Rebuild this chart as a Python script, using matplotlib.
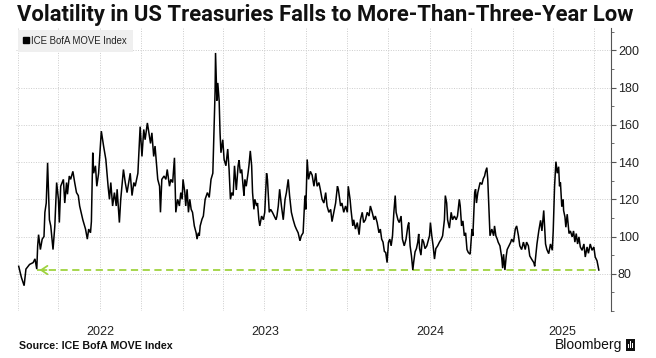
import pandas as pd
import matplotlib
matplotlib.use("Agg")
import matplotlib.pyplot as plt
import matplotlib.dates as mdates
from matplotlib.ticker import MultipleLocator, NullFormatter
from matplotlib.lines import Line2D
from matplotlib.patches import Rectangle
from matplotlib import font_manager

# ---------------- data ----------------
dates_2022 = ["01-03","01-09","01-15","01-19","01-27","02-04","02-08","02-12","02-14","02-16",
              "02-20","02-24","02-28","03-02","03-05","03-08","03-12","03-15","03-20","03-24",
              "03-28","04-01","04-03","04-06","04-12","04-15","04-19","04-21","04-25","04-28",
              "05-03","05-07","05-11","05-15","05-18","05-25","05-31","06-04","06-07","06-11",
              "06-13","06-16","06-18","06-22","06-25","06-29","07-05","07-10","07-15","07-20",
              "07-23","07-26","07-30","08-03","08-07","08-09","08-14","08-17","08-23","08-27",
              "08-31","09-07","09-11","09-15","09-18","09-24","09-29","10-03","10-07","10-10",
              "10-15","10-22","10-25","10-29","11-01","11-07","11-11","11-13","11-16","11-21",
              "11-25","11-28","12-03","12-06","12-10","12-14","12-17","12-21","12-25","12-28",
              "12-31"]
values_2022 = [84, 78, 73.6, 82.5, 85, 86, 88, 82.5, 95, 101,
               93, 98.6, 100, 113, 118, 139.6, 109, 105.7, 93, 105.7,
               129, 120, 107.5, 127, 130.7, 118, 129, 122.7, 132.5, 130.7,
               135, 129, 123.6, 122, 116.4, 109, 104, 98.6, 104, 102,
               108, 145, 134, 138, 127, 134, 156.6, 148.6, 141.4, 127,
               120, 129, 116.4, 123.6, 116.4, 125.4, 107.5, 120, 136, 129,
               123.6, 134, 122, 129, 127, 134, 159, 143, 157.5, 152,
               161, 150, 155.7, 143, 148.6, 130.7, 127, 113, 130.7, 132.5,
               130.7, 136, 127, 130.7, 129, 142.3, 113, 120, 116.4, 123.6,
               120]

dates_2023 = ["01-02","01-06","01-08","01-11","01-14","01-17","01-20","01-23","01-27","01-31",
              "02-02","02-05","02-07","02-09","02-13","02-16","02-20","02-25","03-01","03-05",
              "03-09","03-11","03-13","03-14","03-15","03-18","03-20","03-23","03-25","03-27",
              "03-31","04-03","04-07","04-11","04-14","04-17","04-20","04-23","04-26","04-30",
              "05-04","05-06","05-09","05-12","05-15","05-17","05-19","05-22","05-26","05-28",
              "05-31","06-03","06-05","06-08","06-10","06-14","06-16","06-19","06-21","06-25",
              "06-29","07-02","07-06","07-08","07-12","07-15","07-19","07-23","07-27","07-29",
              "08-01","08-04","08-08","08-12","08-16","08-19","08-23","08-26","08-30","09-03",
              "09-07","09-10","09-14","09-18","09-21","09-25","09-29","10-01","10-04","10-07",
              "10-11","10-15","10-19","10-23","10-26","10-30","11-02","11-06","11-10","11-14",
              "11-17","11-21","11-25","11-28","12-02","12-06","12-10","12-12","12-15","12-17",
              "12-20","12-24","12-28"]
values_2023 = [130.7, 123.6, 116.4, 125.4, 113, 120, 114.6, 113, 105.7, 102,
               98.6, 102, 100.4, 105.7, 109.3, 111, 120, 123.6, 121, 130.7,
               134, 152, 170, 178, 198.6, 173, 182.5, 173, 155.7, 145,
               152, 141.4, 138, 147, 136, 120, 123.6, 122, 138, 125,
               138, 141, 134, 136, 127, 122, 130.7, 127, 134, 138,
               146, 138, 123.6, 114.6, 120, 116.4, 118, 109, 105.7, 111,
               109, 113, 134, 130.7, 113, 114.6, 113, 111, 109, 111,
               116.4, 125.4, 116.4, 109, 120, 123.6, 130.7, 122, 113, 109,
               105.7, 104, 102, 97.7, 100.4, 102, 122, 114.6, 141.4, 130.7,
               135, 133, 127, 134, 127, 129, 125.4, 120, 118, 123.6,
               116.4, 113, 114.6, 108, 113, 118, 127, 125.4, 120, 116.4,
               118, 113, 116.4]

dates_2024 = ["01-01","01-03","01-07","01-09","01-13","01-15","01-19","01-23","01-27","01-30",
              "02-03","02-06","02-10","02-14","02-18","02-21","02-25","02-29","03-03","03-07",
              "03-11","03-14","03-17","03-20","03-23","03-26","03-29","04-01","04-04","04-07",
              "04-10","04-13","04-16","04-18","04-22","04-25","04-29","05-02","05-06","05-10",
              "05-14","05-16","05-19","05-22","05-25","05-27","05-30","06-02","06-05","06-07",
              "06-09","06-12","06-15","06-18","06-21","06-25","06-29","07-01","07-03","07-06",
              "07-09","07-12","07-15","07-19","07-23","07-27","07-30","08-03","08-05","08-08",
              "08-10","08-14","08-18","08-21","08-25","08-29","09-01","09-05","09-07","09-10",
              "09-13","09-16","09-19","09-22","09-25","09-29","10-03","10-05","10-09","10-11",
              "10-13","10-16","10-19","10-21","10-25","10-28","10-31","11-02","11-05","11-07",
              "11-10","11-12","11-16","11-20","11-22","11-25","11-28","11-30","12-04","12-08",
              "12-10","12-12","12-15","12-18","12-20","12-24","12-28","12-30"]
values_2024 = [113, 127, 120, 114.6, 105.7, 109, 104, 107.5, 101, 109,
               113, 107.5, 109, 113, 111, 116.4, 113, 109, 111, 107.5,
               102, 104, 98.6, 97, 92, 91.4, 86, 96.8, 98.6, 95,
               100.4, 113, 122, 113, 109, 107.5, 111, 98.6, 95, 98.6,
               105.7, 107.5, 95, 89.6, 82, 86.4, 91.8, 93.5, 97, 101.4,
               93.5, 90, 98.6, 97, 93.5, 95, 98.6, 100.4, 107.5, 100.4,
               95, 87.9, 93.5, 95, 97, 98.6, 100.4, 109, 122, 118,
               109, 104.5, 113, 109, 111, 109, 111, 120, 116.4, 105.7,
               108.4, 100.4, 102, 93, 91.4, 90.5, 104, 100.4, 123.6, 125.4,
               118, 123.6, 127, 129, 128, 131, 132.5, 134.8, 137, 130.7,
               113, 100.4, 104, 100.4, 105.7, 100.4, 98.6, 97, 95, 88.6,
               83, 90.5, 82, 89.6, 93, 95, 97, 98.6]

dates_2025 = ["01-03","01-07","01-10","01-14","01-17","01-21","01-25","01-29","02-01","02-05",
              "02-08","02-12","02-17","02-19","02-24","02-28","03-04","03-07","03-11","03-15",
              "03-18","03-22","03-26","03-30","04-01","04-04","04-07","04-10","04-13","04-15",
              "04-17","04-20","04-23","04-24","04-27","04-29","05-02","05-04","05-06","05-09",
              "05-13","05-16","05-19","05-22","05-25","05-28","05-31","06-04","06-08","06-11",
              "06-15","06-18","06-22","06-26","06-30","07-03","07-07","07-11"]
values_2025 = [97, 104, 105.7, 100.4, 95, 93, 97, 93, 97, 95,
               89.6, 87.9, 86, 84, 96, 103, 108.7, 103, 114, 96,
               93, 90.8, 96, 92.6, 103, 127, 140.2, 134, 137.5, 127,
               129, 116, 120, 114, 110.5, 105, 112, 107, 101.6, 103,
               99.8, 103, 97, 101.6, 96, 99.8, 94.4, 92.6, 96, 89,
               94.4, 91, 96, 92.6, 94.4, 89, 87, 82]

title = "Volatility in US Treasuries Falls to More-Than-Three-Year Low"
series_label = "ICE BofA MOVE Index"
source_text = "Source: ICE BofA MOVE Index"
brand = "Bloomberg"
y_ticks = [80, 100, 120, 140, 160, 180, 200]
year_labels = ["2022", "2023", "2024", "2025"]
low_ref_date = "2022-02-12"   # earlier date at the same level (arrow tip)

# ---------------- assemble ----------------
dates = pd.to_datetime([f"2022-{d}" for d in dates_2022] + [f"2023-{d}" for d in dates_2023] +
                       [f"2024-{d}" for d in dates_2024] + [f"2025-{d}" for d in dates_2025])
values = values_2022 + values_2023 + values_2024 + values_2025

names = {f.name for f in font_manager.fontManager.ttflist}
narrow = ["Liberation Sans Narrow", "Liberation Sans", "DejaVu Sans"] if "Liberation Sans Narrow" in names \
    else ["Liberation Sans", "DejaVu Sans"]
plt.rcParams["font.family"] = ["Liberation Sans", "DejaVu Sans"]

W, H = 656, 358
fig = plt.figure(figsize=(W / 100, H / 100), dpi=100)
fig.patch.set_facecolor("white")
ax = fig.add_axes([16 / W, 1 - 311 / H, (611 - 16) / W, (311 - 28) / H])

ax.plot(dates, values, color="black", lw=1.1, zorder=3, solid_joinstyle="miter")

green = "#9fd33f"
last_val = values[-1]
ax.plot([pd.Timestamp(low_ref_date), dates[-1]], [last_val, last_val], color=green, lw=1.3,
        ls=(0, (4, 2.5)), zorder=2)
ax.annotate("", xy=(pd.Timestamp(low_ref_date), last_val), xytext=(9, 0), textcoords="offset points",
            arrowprops=dict(arrowstyle="->,head_length=0.45,head_width=0.3", color=green, lw=1.3),
            zorder=2)

xmin, xmax = pd.Timestamp("2021-12-28"), pd.Timestamp("2025-08-07")
ax.set_xlim(xmin, xmax)
ax.set_ylim(60, 212)

for s in ("top", "left", "bottom"):
    ax.spines[s].set_visible(False)
ax.spines["right"].set_color("#555555")
ax.spines["right"].set_linewidth(0.8)

ax.yaxis.tick_right()
ax.set_yticks(y_ticks)
ax.yaxis.set_minor_locator(MultipleLocator(10))
ax.tick_params(axis="y", which="major", length=3.5, width=0.8, color="#555555", labelsize=9,
               labelcolor="#222222", pad=1.5)
ax.tick_params(axis="y", which="minor", length=2, width=0.6, color="#555555")
for lab in ax.get_yticklabels():
    lab.set_family(narrow)

# x axis: quarterly dotted grid, year labels centred on each visible year
ax.xaxis.set_major_locator(mdates.MonthLocator(bymonth=[1, 4, 7, 10]))
ax.xaxis.set_major_formatter(NullFormatter())
ax.tick_params(axis="x", which="major", length=0)
centers = []
for y in year_labels:
    a = max(pd.Timestamp(f"{y}-01-01"), xmin)
    b = min(pd.Timestamp(f"{int(y) + 1}-01-01"), xmax)
    centers.append(a + (b - a) / 2)
ax.set_xticks(centers, minor=True)
ax.set_xticklabels(year_labels, minor=True)
ax.tick_params(axis="x", which="minor", length=0, labelsize=9, pad=11, labelcolor="#222222")
for lab in ax.get_xticklabels(minor=True):
    lab.set_family(narrow)

ax.grid(True, which="major", axis="both", ls=(0, (1, 1.5)), color="#cccccc", lw=0.7)
ax.set_axisbelow(True)

# legend
handle = Line2D([], [], marker="s", color="black", ls="none", markersize=4.5)
leg = ax.legend([handle], [series_label], loc="upper left", bbox_to_anchor=(18 / W, 1 - 30 / H),
                bbox_transform=fig.transFigure, frameon=True, fancybox=False, facecolor="#efefef",
                edgecolor="none", framealpha=1, handlelength=0.5, handletextpad=0.3,
                borderpad=0.6, borderaxespad=0, prop={"family": narrow, "size": 6.9})
leg.get_texts()[0].set_color("#222222")

# texts
t_title = fig.text(17 / W, 1 - 15 / H, title, fontsize=14, fontweight="bold", va="center", ha="left",
                   color="#111111", family=["Roboto", "Liberation Sans", "DejaVu Sans"])
t_src = fig.text(19 / W, 1 - 346 / H, source_text, fontsize=7.5, fontweight="bold", va="center",
                 ha="left", color="#111111", family=["Liberation Sans", "DejaVu Sans"])
t_brand = fig.text(622 / W, 1 - 345 / H, brand, fontsize=10, va="center", ha="right", color="#111111",
                   family=["Liberation Sans", "DejaVu Sans"])

fig.canvas.draw()
def fit(txt, target_px):
    w = txt.get_window_extent().width
    txt.set_fontsize(txt.get_fontsize() * target_px / w)
fit(t_title, 619)
fit(t_src, 152)

# small logo mark next to brand
fig.patches.append(Rectangle((626 / W, 1 - 351 / H), 9 / W, 12 / H, transform=fig.transFigure,
                             facecolor="#111111", edgecolor="none"))
for k, hgt in enumerate([4, 7, 5]):
    fig.patches.append(Rectangle(((627.5 + k * 2.3) / W, 1 - 348 / H), 1.2 / W, hgt / H,
                                 transform=fig.transFigure, facecolor="white", edgecolor="none"))

fig.savefig("out.png", dpi=100, facecolor="white")
